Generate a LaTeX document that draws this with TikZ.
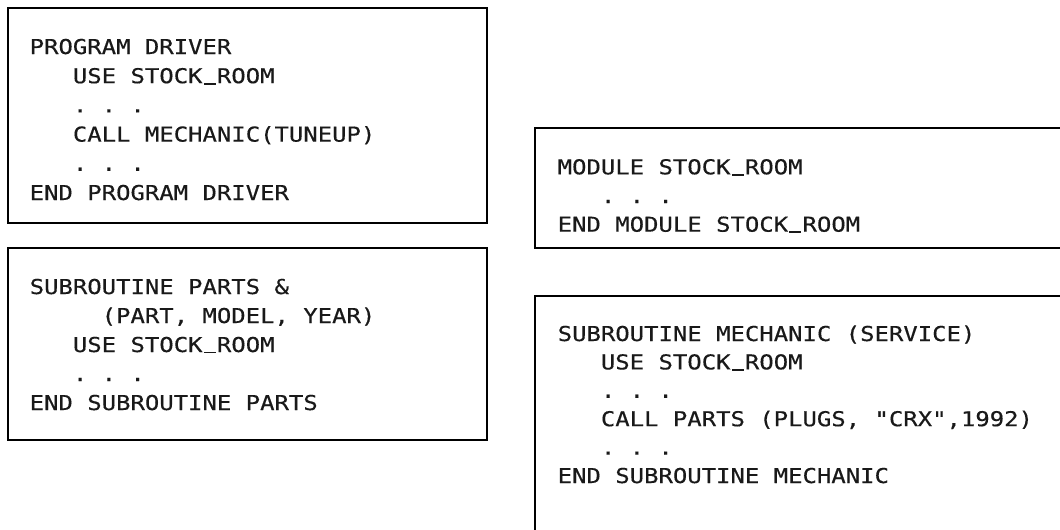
\documentclass[tikz,border=0pt]{standalone}
\usepackage{fontspec}
\setmonofont[FakeStretch=1.167,FakeBold=0.4]{DejaVu Sans Mono}
\usetikzlibrary{calc}
\newcommand\usc{\rlap{\kern0.06em\rule[-0.07em]{0.58em}{0.085em}}\phantom{X}}
\begin{document}
\begin{tikzpicture}[x=1pt,y=-1pt,
  box/.style={draw, line width=2pt, inner sep=0pt, outer sep=0pt, anchor=north west, rectangle},
  code/.style={font=\ttfamily\fontsize{20.5}{24}\selectfont, text=black!90, inner sep=0pt, anchor=base west}]
\useasboundingbox (0,0) rectangle (1060,530);
\clip (0,0) rectangle (1060,530);
% boxes
\node[box, minimum width=479.2pt, minimum height=215.5pt] (b1) at (7.5,7.5) {};
\node[box, minimum width=479.2pt, minimum height=192pt] (b2) at (7.5,247.5) {};
\node[box, minimum width=600pt, minimum height=120pt] (b3) at (535,127.5) {};
\node[box, minimum width=600pt, minimum height=300pt] (b4) at (535,296) {};
% box 1
\node[code] (t11) at ($(b1.north west)+(22,46.5)$) {PROGRAM DRIVER};
\node[code] (t12) at ($(b1.north west)+(22+3*14.4,75.7)$) {USE STOCK\usc ROOM};
\node[code] (t13) at ($(b1.north west)+(22+3*14.4,104.9)$) {. . .};
\node[code] (t14) at ($(b1.north west)+(22+3*14.4,134.1)$) {CALL MECHANIC(TUNEUP)};
\node[code] (t15) at ($(b1.north west)+(22+3*14.4,163.3)$) {. . .};
\node[code] (t16) at ($(b1.north west)+(22,192.5)$) {END PROGRAM DRIVER};
% box 2
\node[code] (t21) at ($(b2.north west)+(22,46.5)$) {SUBROUTINE PARTS \&};
\node[code] (t22) at ($(b2.north west)+(22+5*14.4,75.5)$) {(PART, MODEL, YEAR)};
\node[code] (t23) at ($(b2.north west)+(22+3*14.4,104.5)$) {USE STOCK\usc ROOM};
\node[code] (t24) at ($(b2.north west)+(22+3*14.4,133.5)$) {. . .};
\node[code] (t25) at ($(b2.north west)+(22,162.5)$) {END SUBROUTINE PARTS};
% box 3
\node[code] (t31) at ($(b3.north west)+(22.5,46.8)$) {MODULE STOCK\usc ROOM};
\node[code] (t32) at ($(b3.north west)+(22.5+3*14.4,75.5)$) {. . .};
\node[code] (t33) at ($(b3.north west)+(22.5,104.2)$) {END MODULE STOCK\usc ROOM};
% box 4
\node[code] (t41) at ($(b4.north west)+(22.5,45)$) {SUBROUTINE MECHANIC (SERVICE)};
\node[code] (t42) at ($(b4.north west)+(22.5+3*14.4,73.4)$) {USE STOCK\usc ROOM};
\node[code] (t43) at ($(b4.north west)+(22.5+3*14.4,101.8)$) {. . .};
\node[code] (t44) at ($(b4.north west)+(22.5+3*14.4,130.2)$) {CALL PARTS (PLUGS, "CRX",1992)};
\node[code] (t45) at ($(b4.north west)+(22.5+3*14.4,158.6)$) {. . .};
\node[code] (t46) at ($(b4.north west)+(22.5,187)$) {END SUBROUTINE MECHANIC};
\end{tikzpicture}
\end{document}
